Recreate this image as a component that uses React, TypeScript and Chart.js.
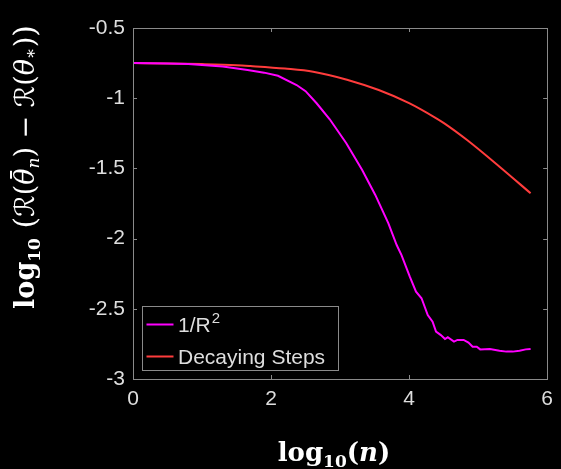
import React, { useEffect, useRef } from "react";
import { Chart, registerables } from "chart.js";

Chart.register(...registerables);

// log10(n)
const invR2X = [0, 0.5, 0.8, 1.0, 1.3, 1.66, 1.9, 2.1, 2.37, 2.5, 2.66, 2.85, 3.09, 3.32, 3.51, 3.7, 3.82, 3.89, 4.01, 4.1, 4.18, 4.27, 4.34, 4.39, 4.46, 4.52, 4.56, 4.65, 4.7, 4.79, 4.86, 4.92, 4.98, 5.03, 5.17, 5.31, 5.41, 5.5, 5.6, 5.69, 5.76];
const invR2Y = [-0.75, -0.752, -0.757, -0.763, -0.775, -0.799, -0.818, -0.84, -0.906, -0.95, -1.036, -1.15, -1.321, -1.511, -1.689, -1.891, -2.046, -2.117, -2.271, -2.378, -2.425, -2.544, -2.592, -2.663, -2.687, -2.715, -2.703, -2.734, -2.722, -2.722, -2.741, -2.77, -2.77, -2.789, -2.786, -2.798, -2.805, -2.805, -2.798, -2.789, -2.786];
const decayX = [0, 0.5, 1.0, 1.5, 1.7, 2.2, 2.61, 3.1, 3.56, 4.0, 4.37, 4.51, 4.84, 5.31, 5.76];
const decayY = [-0.75, -0.752, -0.757, -0.765, -0.771, -0.789, -0.811, -0.868, -0.942, -1.035, -1.136, -1.179, -1.298, -1.488, -1.677];

const xTicks = [0, 2, 4, 6];
const yTicks = [-3, -2.5, -2, -1.5, -1, -0.5];
const legendLabels = ["1/R", "Decaying Steps"];
const seriesColors = ["#ff00ff", "#ff3c3c"];

const TICK_FONT = "'Liberation Sans', Arial, sans-serif";
const MATH_FONT = "'DejaVu Serif', 'DejaVu Sans', serif";
const BOX = "#8a8a8a";
const TXT = "#dedede";

type Run = { t: string; f: string; dy?: number; over?: boolean };

function drawRuns(ctx: CanvasRenderingContext2D, runs: Run[], cx: number, y: number) {
  let total = 0;
  const widths = runs.map((r) => {
    ctx.font = r.f;
    const w = r.over ? 0 : ctx.measureText(r.t).width;
    total += w;
    return w;
  });
  let x = cx - total / 2;
  let prevX = x;
  let prevW = 0;
  runs.forEach((r, i) => {
    ctx.font = r.f;
    if (r.over) {
      const w = ctx.measureText(r.t).width;
      ctx.fillText(r.t, prevX + (prevW - w) / 2 + 2, y + (r.dy || 0));
      return;
    }
    ctx.fillText(r.t, x, y + (r.dy || 0));
    prevX = x;
    prevW = widths[i];
    x += widths[i];
  });
}

const decorPlugin = {
  id: "decor",
  beforeDraw(chart: any) {
    const ctx = chart.ctx;
    ctx.save();
    ctx.fillStyle = "#000";
    ctx.fillRect(0, 0, chart.width, chart.height);
    ctx.restore();
  },
  afterDraw(chart: any) {
    const ctx: CanvasRenderingContext2D = chart.ctx;
    const { left, right, top, bottom } = chart.chartArea;
    const xs = chart.scales.x;
    const ys = chart.scales.y;
    ctx.save();
    // box
    ctx.strokeStyle = BOX;
    ctx.lineWidth = 1;
    ctx.strokeRect(Math.round(left) + 0.5, Math.round(top) + 0.5, Math.round(right - left), Math.round(bottom - top));
    // inward ticks
    const tl = 4;
    ctx.beginPath();
    xTicks.forEach((v) => {
      const px = Math.round(xs.getPixelForValue(v)) + 0.5;
      ctx.moveTo(px, bottom);
      ctx.lineTo(px, bottom - tl);
      ctx.moveTo(px, top);
      ctx.lineTo(px, top + tl);
    });
    yTicks.forEach((v) => {
      const py = Math.round(ys.getPixelForValue(v)) + 0.5;
      ctx.moveTo(left, py);
      ctx.lineTo(left + tl, py);
      ctx.moveTo(right, py);
      ctx.lineTo(right - tl, py);
    });
    ctx.stroke();

    // legend
    const lx = 142.5, ly = 306.5, lw = 196, lh = 64;
    ctx.fillStyle = "#000";
    ctx.fillRect(lx, ly, lw, lh);
    ctx.strokeStyle = BOX;
    ctx.strokeRect(lx, ly, lw, lh);
    const rowsY = [324.5, 356.5];
    rowsY.forEach((ry, i) => {
      ctx.strokeStyle = seriesColors[i];
      ctx.lineWidth = 2;
      ctx.beginPath();
      ctx.moveTo(146.5, ry);
      ctx.lineTo(173.5, ry);
      ctx.stroke();
    });
    ctx.fillStyle = TXT;
    ctx.textBaseline = "alphabetic";
    ctx.textAlign = "left";
    ctx.font = `21px ${TICK_FONT}`;
    ctx.fillText(legendLabels[0], 178, rowsY[0] + 7.5);
    const w0 = ctx.measureText(legendLabels[0]).width;
    ctx.font = `15px ${TICK_FONT}`;
    ctx.fillText("2", 178 + w0 + 1, rowsY[0] - 2);
    ctx.font = `21px ${TICK_FONT}`;
    ctx.fillText(legendLabels[1], 178, rowsY[1] + 7.5);

    // x title
    ctx.fillStyle = "#ffffff";
    drawRuns(
      ctx,
      [
        { t: "log", f: `bold 26px ${MATH_FONT}` },
        { t: "10", f: `bold 17px ${MATH_FONT}`, dy: 6 },
        { t: "(", f: `bold 26px ${MATH_FONT}` },
        { t: "n", f: `italic bold 26px ${MATH_FONT}` },
        { t: ")", f: `bold 26px ${MATH_FONT}` },
      ],
      334,
      461
    );

    // y title
    ctx.translate(34, 167);
    ctx.rotate(-Math.PI / 2);
    drawRuns(
      ctx,
      [
        { t: "log", f: `bold 27px ${MATH_FONT}` },
        { t: "10", f: `bold 17px ${MATH_FONT}`, dy: 6 },
        { t: " (", f: `30px ${MATH_FONT}`, dy: 1 },
        { t: "ℛ", f: `italic 27px ${MATH_FONT}` },
        { t: "(", f: `27px ${MATH_FONT}` },
        { t: "θ", f: `italic 27px ${MATH_FONT}` },
        { t: "¯", f: `27px ${MATH_FONT}`, dy: -3, over: true },
        { t: "n", f: `italic 17px ${MATH_FONT}`, dy: 5 },
        { t: ")", f: `27px ${MATH_FONT}` },
        { t: " − ", f: `27px ${MATH_FONT}` },
        { t: "ℛ", f: `italic 27px ${MATH_FONT}` },
        { t: "(", f: `27px ${MATH_FONT}` },
        { t: "θ", f: `italic 27px ${MATH_FONT}` },
        { t: "∗", f: `17px ${MATH_FONT}`, dy: 2 },
        { t: ")", f: `27px ${MATH_FONT}` },
        { t: ")", f: `30px ${MATH_FONT}`, dy: 1 },
      ],
      0,
      0
    );
    ctx.restore();
  },
};

export default function App() {
  const ref = useRef<HTMLCanvasElement | null>(null);
  useEffect(() => {
    document.body.style.margin = "0";
    document.body.style.background = "#000";
    const canvas = ref.current;
    if (!canvas) return;
    const chart = new Chart(canvas, {
      type: "line",
      data: {
        datasets: [
          {
            label: legendLabels[0],
            data: invR2X.map((x, i) => ({ x, y: invR2Y[i] })),
            borderColor: seriesColors[0],
            borderWidth: 2,
            pointRadius: 0,
            tension: 0,
          },
          {
            label: legendLabels[1],
            data: decayX.map((x, i) => ({ x, y: decayY[i] })),
            borderColor: seriesColors[1],
            borderWidth: 2,
            pointRadius: 0,
            cubicInterpolationMode: "monotone",
          },
        ],
      },
      options: {
        responsive: false,
        animation: false,
        events: [],
        layout: { padding: { top: 28, right: 5, left: 0, bottom: 0 } },
        plugins: { legend: { display: false }, tooltip: { enabled: false }, title: { display: false } },
        scales: {
          x: {
            type: "linear",
            min: 0,
            max: 6,
            afterBuildTicks: (s: any) => {
              s.ticks = xTicks.map((v) => ({ value: v }));
            },
            afterFit: (s: any) => {
              s.height = 90;
            },
            ticks: {
              color: TXT,
              font: { size: 21, family: TICK_FONT },
              padding: 8,
              maxRotation: 0,
              callback: (v: any) => String(v),
            },
            grid: { display: false, drawTicks: false },
            border: { display: false },
          },
          y: {
            type: "linear",
            min: -3,
            max: -0.5,
            afterBuildTicks: (s: any) => {
              s.ticks = yTicks.map((v) => ({ value: v }));
            },
            afterFit: (s: any) => {
              s.width = 133;
            },
            ticks: {
              color: TXT,
              font: { size: 21, family: TICK_FONT },
              padding: 8,
              callback: (v: any) => String(v),
            },
            grid: { display: false, drawTicks: false },
            border: { display: false },
          },
        },
      },
      plugins: [decorPlugin],
    } as any);
    return () => chart.destroy();
  }, []);
  return (
    <div style={{ width: 561, height: 469, background: "#000" }}>
      <canvas ref={ref} width={561} height={469} style={{ display: "block" }} />
    </div>
  );
}
